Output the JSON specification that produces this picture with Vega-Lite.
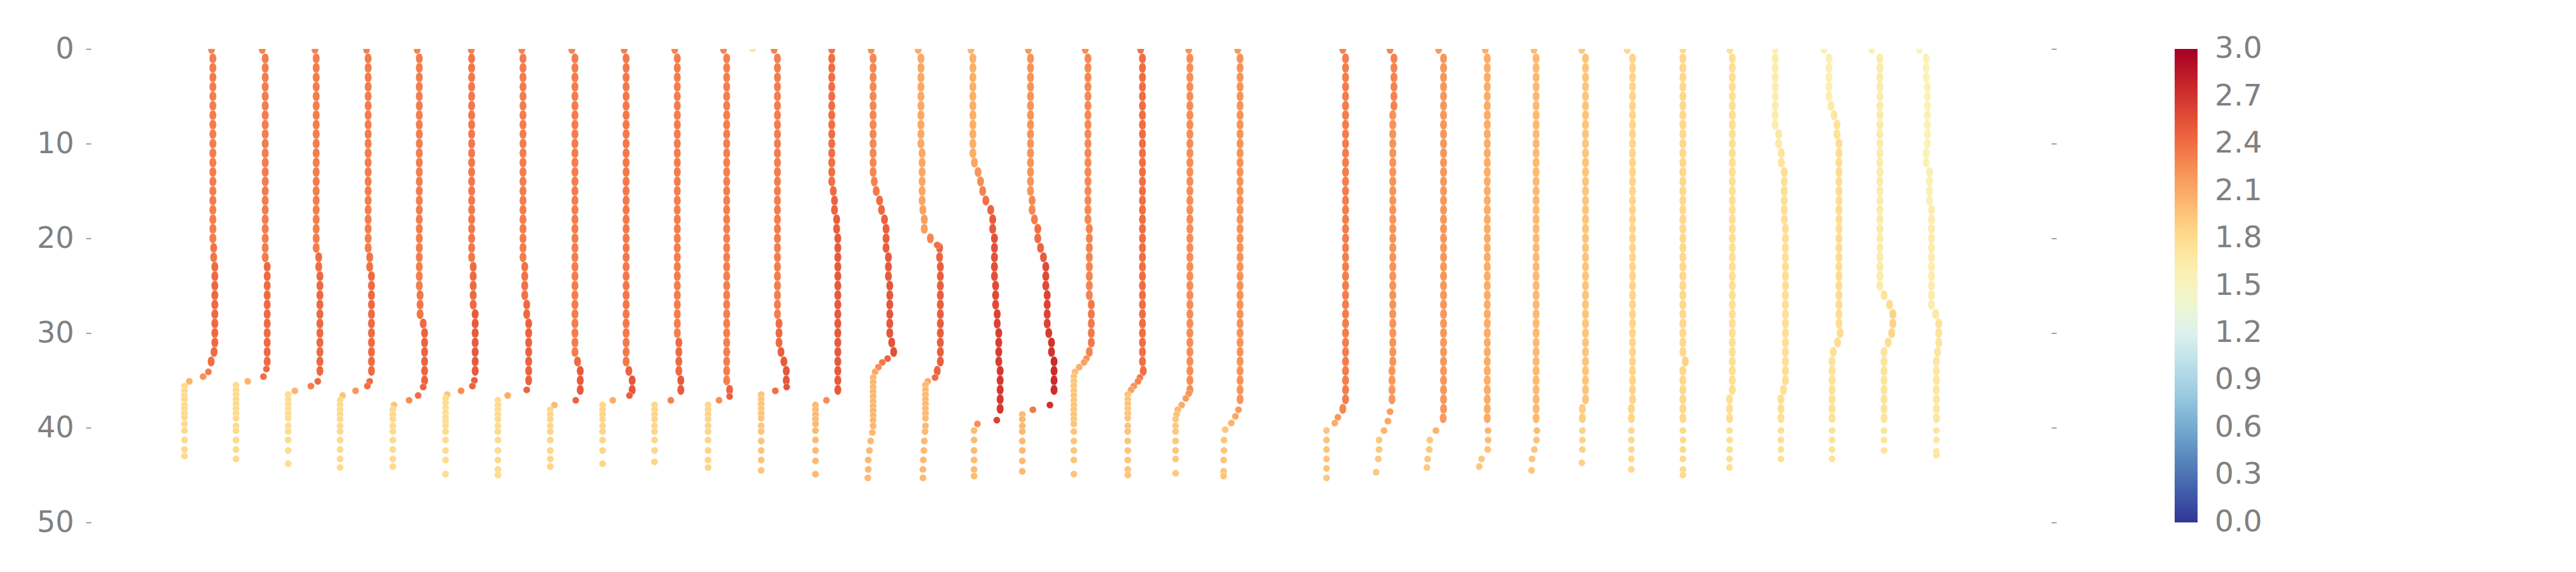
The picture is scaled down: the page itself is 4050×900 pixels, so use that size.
{
"$schema": "https://vega.github.io/schema/vega-lite/v6.json",
"width": 3082, "height": 745,
"autosize": {"type": "none"},
"padding": {"left": 143, "top": 77, "right": 825, "bottom": 78},
"background": "white",
"datasets": {
"chain": [
{"x":61.5,"d":0,"v":2.3},{"x":62.2,"d":1,"v":2.33},{"x":62.2,"d":2,"v":2.33},{"x":62.2,"d":3,"v":2.33},{"x":62.2,"d":4,"v":2.33},{"x":62.2,"d":5,"v":2.33},{"x":62.2,"d":6,"v":2.33},{"x":62.2,"d":7,"v":2.33},{"x":62.2,"d":8,"v":2.33},{"x":62.2,"d":9,"v":2.33},{"x":62.2,"d":10,"v":2.33},{"x":62.2,"d":11,"v":2.33},{"x":62.2,"d":12,"v":2.33},{"x":62.2,"d":13,"v":2.33},{"x":62.2,"d":14,"v":2.33},{"x":62.2,"d":15,"v":2.33},{"x":62.2,"d":16,"v":2.33},{"x":62.2,"d":17,"v":2.33},{"x":62.2,"d":18,"v":2.33},{"x":62.2,"d":19,"v":2.33},{"x":62.2,"d":20,"v":2.33},{"x":62.6,"d":21,"v":2.37},{"x":62.6,"d":22,"v":2.37},{"x":63.2,"d":23,"v":2.42},{"x":63.2,"d":24,"v":2.42},{"x":63.2,"d":25,"v":2.42},{"x":63.2,"d":26,"v":2.42},{"x":63.2,"d":27,"v":2.42},{"x":63.2,"d":28,"v":2.42},{"x":63.2,"d":29,"v":2.42},{"x":63.2,"d":30,"v":2.42},{"x":63.2,"d":31,"v":2.42},{"x":62.8,"d":32,"v":2.42},{"x":61.3,"d":33,"v":2.4},
{"x":87.4,"d":0,"v":2.3},{"x":88.9,"d":1,"v":2.33},{"x":88.9,"d":2,"v":2.33},{"x":88.9,"d":3,"v":2.33},{"x":88.9,"d":4,"v":2.33},{"x":88.9,"d":5,"v":2.33},{"x":88.9,"d":6,"v":2.33},{"x":88.9,"d":7,"v":2.33},{"x":88.9,"d":8,"v":2.33},{"x":88.9,"d":9,"v":2.33},{"x":88.9,"d":10,"v":2.33},{"x":88.9,"d":11,"v":2.33},{"x":88.9,"d":12,"v":2.33},{"x":88.9,"d":13,"v":2.33},{"x":88.9,"d":14,"v":2.33},{"x":88.9,"d":15,"v":2.33},{"x":88.9,"d":16,"v":2.33},{"x":88.9,"d":17,"v":2.33},{"x":88.9,"d":18,"v":2.33},{"x":88.9,"d":19,"v":2.33},{"x":88.9,"d":20,"v":2.33},{"x":88.9,"d":21,"v":2.33},{"x":88.9,"d":22,"v":2.33},{"x":89.9,"d":23,"v":2.42},{"x":89.9,"d":24,"v":2.42},{"x":89.9,"d":25,"v":2.42},{"x":89.9,"d":26,"v":2.42},{"x":89.9,"d":27,"v":2.42},{"x":89.9,"d":28,"v":2.42},{"x":89.9,"d":29,"v":2.42},{"x":89.9,"d":30,"v":2.42},{"x":89.9,"d":31,"v":2.42},{"x":89.9,"d":32,"v":2.42},{"x":89.9,"d":33,"v":2.42},
{"x":114.3,"d":0,"v":2.3},{"x":114.9,"d":1,"v":2.33},{"x":114.9,"d":2,"v":2.33},{"x":114.9,"d":3,"v":2.33},{"x":114.9,"d":4,"v":2.33},{"x":114.9,"d":5,"v":2.33},{"x":114.9,"d":6,"v":2.33},{"x":114.9,"d":7,"v":2.33},{"x":114.9,"d":8,"v":2.33},{"x":114.9,"d":9,"v":2.33},{"x":114.9,"d":10,"v":2.33},{"x":114.9,"d":11,"v":2.33},{"x":114.9,"d":12,"v":2.33},{"x":114.9,"d":13,"v":2.33},{"x":114.9,"d":14,"v":2.33},{"x":114.9,"d":15,"v":2.33},{"x":114.9,"d":16,"v":2.33},{"x":114.9,"d":17,"v":2.33},{"x":114.9,"d":18,"v":2.33},{"x":114.9,"d":19,"v":2.33},{"x":114.9,"d":20,"v":2.33},{"x":114.9,"d":21,"v":2.33},{"x":116.2,"d":22,"v":2.4},{"x":116.2,"d":23,"v":2.4},{"x":116.8,"d":24,"v":2.43},{"x":116.8,"d":25,"v":2.43},{"x":116.8,"d":26,"v":2.43},{"x":116.8,"d":27,"v":2.43},{"x":116.8,"d":28,"v":2.43},{"x":116.8,"d":29,"v":2.43},{"x":116.8,"d":30,"v":2.43},{"x":116.8,"d":31,"v":2.43},{"x":116.8,"d":32,"v":2.43},{"x":116.8,"d":33,"v":2.43},{"x":116.8,"d":34,"v":2.43},
{"x":140.6,"d":0,"v":2.3},{"x":141.4,"d":1,"v":2.33},{"x":141.4,"d":2,"v":2.33},{"x":141.4,"d":3,"v":2.33},{"x":141.4,"d":4,"v":2.33},{"x":141.4,"d":5,"v":2.33},{"x":141.4,"d":6,"v":2.33},{"x":141.4,"d":7,"v":2.33},{"x":141.4,"d":8,"v":2.33},{"x":141.4,"d":9,"v":2.33},{"x":141.4,"d":10,"v":2.33},{"x":141.4,"d":11,"v":2.33},{"x":141.4,"d":12,"v":2.33},{"x":141.4,"d":13,"v":2.33},{"x":141.4,"d":14,"v":2.33},{"x":141.4,"d":15,"v":2.33},{"x":141.4,"d":16,"v":2.33},{"x":141.4,"d":17,"v":2.33},{"x":141.4,"d":18,"v":2.33},{"x":141.4,"d":19,"v":2.33},{"x":141.4,"d":20,"v":2.33},{"x":141.4,"d":21,"v":2.33},{"x":142.2,"d":22,"v":2.38},{"x":142.2,"d":23,"v":2.38},{"x":143.1,"d":24,"v":2.42},{"x":143.1,"d":25,"v":2.42},{"x":143.1,"d":26,"v":2.42},{"x":143.1,"d":27,"v":2.42},{"x":143.1,"d":28,"v":2.42},{"x":143.1,"d":29,"v":2.42},{"x":143.1,"d":30,"v":2.42},{"x":143.1,"d":31,"v":2.42},{"x":143.1,"d":32,"v":2.42},{"x":143.1,"d":33,"v":2.42},{"x":143.1,"d":34,"v":2.42},
{"x":166.4,"d":0,"v":2.3},{"x":167.5,"d":1,"v":2.33},{"x":167.5,"d":2,"v":2.33},{"x":167.5,"d":3,"v":2.33},{"x":167.5,"d":4,"v":2.33},{"x":167.5,"d":5,"v":2.33},{"x":167.5,"d":6,"v":2.33},{"x":167.5,"d":7,"v":2.33},{"x":167.5,"d":8,"v":2.33},{"x":167.5,"d":9,"v":2.33},{"x":167.5,"d":10,"v":2.33},{"x":167.5,"d":11,"v":2.33},{"x":167.5,"d":12,"v":2.33},{"x":167.5,"d":13,"v":2.33},{"x":167.5,"d":14,"v":2.33},{"x":167.5,"d":15,"v":2.33},{"x":167.5,"d":16,"v":2.33},{"x":167.5,"d":17,"v":2.33},{"x":167.5,"d":18,"v":2.33},{"x":167.5,"d":19,"v":2.33},{"x":167.5,"d":20,"v":2.33},{"x":167.5,"d":21,"v":2.33},{"x":167.5,"d":22,"v":2.33},{"x":167.5,"d":23,"v":2.33},{"x":167.5,"d":24,"v":2.33},{"x":167.5,"d":25,"v":2.33},{"x":167.9,"d":26,"v":2.36},{"x":167.9,"d":27,"v":2.36},{"x":167.9,"d":28,"v":2.36},{"x":169.5,"d":29,"v":2.42},{"x":170.2,"d":30,"v":2.45},{"x":170.2,"d":31,"v":2.45},{"x":170.2,"d":32,"v":2.45},{"x":170.2,"d":33,"v":2.45},{"x":170.2,"d":34,"v":2.45},{"x":170.2,"d":35,"v":2.45},
{"x":194.0,"d":0,"v":2.32},{"x":194.2,"d":1,"v":2.35},{"x":194.2,"d":2,"v":2.35},{"x":194.2,"d":3,"v":2.35},{"x":194.2,"d":4,"v":2.35},{"x":194.2,"d":5,"v":2.35},{"x":194.2,"d":6,"v":2.35},{"x":194.2,"d":7,"v":2.35},{"x":194.2,"d":8,"v":2.35},{"x":194.2,"d":9,"v":2.35},{"x":194.2,"d":10,"v":2.35},{"x":194.2,"d":11,"v":2.35},{"x":194.2,"d":12,"v":2.35},{"x":194.2,"d":13,"v":2.35},{"x":194.2,"d":14,"v":2.35},{"x":194.2,"d":15,"v":2.35},{"x":194.2,"d":16,"v":2.35},{"x":194.2,"d":17,"v":2.35},{"x":194.2,"d":18,"v":2.35},{"x":194.2,"d":19,"v":2.35},{"x":194.2,"d":20,"v":2.35},{"x":194.2,"d":21,"v":2.35},{"x":194.2,"d":22,"v":2.35},{"x":195.0,"d":23,"v":2.42},{"x":195.0,"d":24,"v":2.42},{"x":195.0,"d":25,"v":2.42},{"x":195.0,"d":26,"v":2.42},{"x":195.0,"d":27,"v":2.42},{"x":196.0,"d":28,"v":2.5},{"x":196.0,"d":29,"v":2.5},{"x":196.0,"d":30,"v":2.5},{"x":196.0,"d":31,"v":2.5},{"x":196.0,"d":32,"v":2.5},{"x":196.0,"d":33,"v":2.5},{"x":196.0,"d":34,"v":2.5},
{"x":219.8,"d":0,"v":2.3},{"x":220.4,"d":1,"v":2.33},{"x":220.4,"d":2,"v":2.33},{"x":220.4,"d":3,"v":2.33},{"x":220.4,"d":4,"v":2.33},{"x":220.4,"d":5,"v":2.33},{"x":220.4,"d":6,"v":2.33},{"x":220.4,"d":7,"v":2.33},{"x":220.4,"d":8,"v":2.33},{"x":220.4,"d":9,"v":2.33},{"x":220.4,"d":10,"v":2.33},{"x":220.4,"d":11,"v":2.33},{"x":220.4,"d":12,"v":2.33},{"x":220.4,"d":13,"v":2.33},{"x":220.4,"d":14,"v":2.33},{"x":220.4,"d":15,"v":2.33},{"x":220.4,"d":16,"v":2.33},{"x":220.4,"d":17,"v":2.33},{"x":220.4,"d":18,"v":2.33},{"x":220.4,"d":19,"v":2.33},{"x":220.4,"d":20,"v":2.33},{"x":220.4,"d":21,"v":2.33},{"x":220.4,"d":22,"v":2.33},{"x":221.3,"d":23,"v":2.38},{"x":221.3,"d":24,"v":2.38},{"x":221.3,"d":25,"v":2.38},{"x":221.3,"d":26,"v":2.38},{"x":222.3,"d":27,"v":2.42},{"x":222.3,"d":28,"v":2.42},{"x":223.3,"d":29,"v":2.46},{"x":223.3,"d":30,"v":2.46},{"x":223.3,"d":31,"v":2.46},{"x":223.3,"d":32,"v":2.46},{"x":223.3,"d":33,"v":2.46},{"x":223.3,"d":34,"v":2.46},{"x":223.3,"d":35,"v":2.46},
{"x":245.3,"d":0,"v":2.3},{"x":246.9,"d":1,"v":2.33},{"x":246.9,"d":2,"v":2.33},{"x":246.9,"d":3,"v":2.33},{"x":246.9,"d":4,"v":2.33},{"x":246.9,"d":5,"v":2.33},{"x":246.9,"d":6,"v":2.33},{"x":246.9,"d":7,"v":2.33},{"x":246.9,"d":8,"v":2.33},{"x":246.9,"d":9,"v":2.33},{"x":246.9,"d":10,"v":2.33},{"x":246.9,"d":11,"v":2.33},{"x":246.9,"d":12,"v":2.33},{"x":246.9,"d":13,"v":2.33},{"x":246.9,"d":14,"v":2.33},{"x":246.9,"d":15,"v":2.33},{"x":246.9,"d":16,"v":2.33},{"x":246.9,"d":17,"v":2.33},{"x":246.9,"d":18,"v":2.33},{"x":246.9,"d":19,"v":2.33},{"x":246.9,"d":20,"v":2.33},{"x":246.9,"d":21,"v":2.33},{"x":246.9,"d":22,"v":2.33},{"x":246.9,"d":23,"v":2.33},{"x":246.9,"d":24,"v":2.33},{"x":246.9,"d":25,"v":2.33},{"x":246.9,"d":26,"v":2.33},{"x":246.9,"d":27,"v":2.33},{"x":246.9,"d":28,"v":2.33},{"x":246.9,"d":29,"v":2.33},{"x":246.9,"d":30,"v":2.33},{"x":246.9,"d":31,"v":2.33},{"x":246.9,"d":32,"v":2.33},{"x":248.2,"d":33,"v":2.42},{"x":249.6,"d":34,"v":2.5},{"x":249.6,"d":35,"v":2.5},{"x":249.6,"d":36,"v":2.5},
{"x":272.0,"d":0,"v":2.32},{"x":273.0,"d":1,"v":2.35},{"x":273.0,"d":2,"v":2.35},{"x":273.0,"d":3,"v":2.35},{"x":273.0,"d":4,"v":2.35},{"x":273.0,"d":5,"v":2.35},{"x":273.0,"d":6,"v":2.35},{"x":273.0,"d":7,"v":2.35},{"x":273.0,"d":8,"v":2.35},{"x":273.0,"d":9,"v":2.35},{"x":273.0,"d":10,"v":2.35},{"x":273.0,"d":11,"v":2.35},{"x":273.0,"d":12,"v":2.35},{"x":273.0,"d":13,"v":2.35},{"x":273.0,"d":14,"v":2.35},{"x":273.0,"d":15,"v":2.35},{"x":273.0,"d":16,"v":2.35},{"x":273.0,"d":17,"v":2.35},{"x":273.0,"d":18,"v":2.35},{"x":273.0,"d":19,"v":2.35},{"x":273.0,"d":20,"v":2.35},{"x":273.0,"d":21,"v":2.35},{"x":273.0,"d":22,"v":2.35},{"x":273.0,"d":23,"v":2.35},{"x":273.0,"d":24,"v":2.35},{"x":273.0,"d":25,"v":2.35},{"x":273.0,"d":26,"v":2.35},{"x":273.0,"d":27,"v":2.35},{"x":273.0,"d":28,"v":2.35},{"x":273.0,"d":29,"v":2.35},{"x":273.0,"d":30,"v":2.35},{"x":273.0,"d":31,"v":2.35},{"x":273.0,"d":32,"v":2.35},{"x":273.0,"d":33,"v":2.35},{"x":274.4,"d":34,"v":2.45},{"x":276.1,"d":35,"v":2.52},{"x":276.1,"d":36,"v":2.52},
{"x":297.8,"d":0,"v":2.3},{"x":299.1,"d":1,"v":2.33},{"x":299.1,"d":2,"v":2.33},{"x":299.1,"d":3,"v":2.33},{"x":299.1,"d":4,"v":2.33},{"x":299.1,"d":5,"v":2.33},{"x":299.1,"d":6,"v":2.33},{"x":299.1,"d":7,"v":2.33},{"x":299.1,"d":8,"v":2.33},{"x":299.1,"d":9,"v":2.33},{"x":299.1,"d":10,"v":2.33},{"x":299.1,"d":11,"v":2.33},{"x":299.1,"d":12,"v":2.33},{"x":299.1,"d":13,"v":2.33},{"x":299.1,"d":14,"v":2.33},{"x":299.1,"d":15,"v":2.33},{"x":299.1,"d":16,"v":2.33},{"x":299.1,"d":17,"v":2.33},{"x":299.1,"d":18,"v":2.33},{"x":299.1,"d":19,"v":2.33},{"x":299.1,"d":20,"v":2.33},{"x":299.1,"d":21,"v":2.33},{"x":299.1,"d":22,"v":2.33},{"x":299.1,"d":23,"v":2.33},{"x":299.1,"d":24,"v":2.33},{"x":299.1,"d":25,"v":2.33},{"x":299.1,"d":26,"v":2.33},{"x":299.1,"d":27,"v":2.33},{"x":299.1,"d":28,"v":2.33},{"x":299.1,"d":29,"v":2.33},{"x":299.1,"d":30,"v":2.33},{"x":299.9,"d":31,"v":2.42},{"x":299.9,"d":32,"v":2.42},{"x":299.9,"d":33,"v":2.42},{"x":299.9,"d":34,"v":2.42},{"x":300.9,"d":35,"v":2.5},{"x":300.9,"d":36,"v":2.5},
{"x":322.7,"d":0,"v":2.3},{"x":324.3,"d":1,"v":2.32},{"x":324.3,"d":2,"v":2.32},{"x":324.3,"d":3,"v":2.32},{"x":324.3,"d":4,"v":2.32},{"x":324.3,"d":5,"v":2.32},{"x":324.3,"d":6,"v":2.32},{"x":324.3,"d":7,"v":2.32},{"x":324.3,"d":8,"v":2.32},{"x":324.3,"d":9,"v":2.32},{"x":324.3,"d":10,"v":2.32},{"x":324.3,"d":11,"v":2.32},{"x":324.3,"d":12,"v":2.32},{"x":324.3,"d":13,"v":2.32},{"x":324.3,"d":14,"v":2.32},{"x":324.3,"d":15,"v":2.32},{"x":324.3,"d":16,"v":2.32},{"x":324.3,"d":17,"v":2.32},{"x":324.3,"d":18,"v":2.32},{"x":324.3,"d":19,"v":2.32},{"x":324.3,"d":20,"v":2.32},{"x":324.3,"d":21,"v":2.32},{"x":324.3,"d":22,"v":2.32},{"x":324.3,"d":23,"v":2.32},{"x":324.3,"d":24,"v":2.32},{"x":324.3,"d":25,"v":2.32},{"x":324.3,"d":26,"v":2.32},{"x":324.3,"d":27,"v":2.32},{"x":324.3,"d":28,"v":2.32},{"x":324.3,"d":29,"v":2.32},{"x":324.3,"d":30,"v":2.32},{"x":324.3,"d":31,"v":2.32},{"x":324.3,"d":32,"v":2.32},{"x":324.3,"d":33,"v":2.32},{"x":324.3,"d":34,"v":2.32},{"x":324.3,"d":35,"v":2.32},{"x":325.8,"d":36,"v":2.45},
{"x":348.5,"d":0,"v":2.3},{"x":350.2,"d":1,"v":2.33},{"x":350.2,"d":2,"v":2.33},{"x":350.2,"d":3,"v":2.33},{"x":350.2,"d":4,"v":2.33},{"x":350.2,"d":5,"v":2.33},{"x":350.2,"d":6,"v":2.33},{"x":350.2,"d":7,"v":2.33},{"x":350.2,"d":8,"v":2.33},{"x":350.2,"d":9,"v":2.33},{"x":350.2,"d":10,"v":2.33},{"x":350.2,"d":11,"v":2.33},{"x":350.2,"d":12,"v":2.33},{"x":350.2,"d":13,"v":2.33},{"x":350.2,"d":14,"v":2.33},{"x":350.2,"d":15,"v":2.33},{"x":350.2,"d":16,"v":2.33},{"x":350.2,"d":17,"v":2.33},{"x":350.2,"d":18,"v":2.33},{"x":350.2,"d":19,"v":2.33},{"x":350.2,"d":20,"v":2.33},{"x":350.2,"d":21,"v":2.33},{"x":350.2,"d":22,"v":2.33},{"x":350.2,"d":23,"v":2.33},{"x":350.2,"d":24,"v":2.33},{"x":350.2,"d":25,"v":2.33},{"x":350.2,"d":26,"v":2.33},{"x":350.2,"d":27,"v":2.33},{"x":350.2,"d":28,"v":2.33},{"x":351.0,"d":29,"v":2.42},{"x":351.0,"d":30,"v":2.42},{"x":351.0,"d":31,"v":2.42},{"x":352.0,"d":32,"v":2.48},{"x":353.5,"d":33,"v":2.5},{"x":354.7,"d":34,"v":2.52},{"x":354.7,"d":35,"v":2.52},
{"x":377.9,"d":0,"v":2.38},{"x":377.9,"d":1,"v":2.4},{"x":377.9,"d":2,"v":2.4},{"x":377.9,"d":3,"v":2.4},{"x":377.9,"d":4,"v":2.4},{"x":377.9,"d":5,"v":2.4},{"x":377.9,"d":6,"v":2.4},{"x":377.9,"d":7,"v":2.4},{"x":377.9,"d":8,"v":2.4},{"x":377.9,"d":9,"v":2.4},{"x":377.9,"d":10,"v":2.4},{"x":377.9,"d":11,"v":2.4},{"x":377.9,"d":12,"v":2.4},{"x":377.9,"d":13,"v":2.4},{"x":377.9,"d":14,"v":2.4},{"x":378.7,"d":15,"v":2.42},{"x":379.3,"d":16,"v":2.45},{"x":379.3,"d":17,"v":2.45},{"x":380.4,"d":18,"v":2.48},{"x":380.4,"d":19,"v":2.48},{"x":381.0,"d":20,"v":2.5},{"x":381.0,"d":21,"v":2.5},{"x":381.0,"d":22,"v":2.5},{"x":381.0,"d":23,"v":2.5},{"x":381.0,"d":24,"v":2.5},{"x":381.0,"d":25,"v":2.5},{"x":381.0,"d":26,"v":2.5},{"x":381.0,"d":27,"v":2.5},{"x":381.0,"d":28,"v":2.5},{"x":381.0,"d":29,"v":2.5},{"x":381.0,"d":30,"v":2.5},{"x":381.0,"d":31,"v":2.5},{"x":381.0,"d":32,"v":2.5},{"x":381.0,"d":33,"v":2.5},{"x":381.0,"d":34,"v":2.5},{"x":381.0,"d":35,"v":2.5},{"x":381.0,"d":36,"v":2.5},
{"x":398.0,"d":0,"v":2.25},{"x":399.0,"d":1,"v":2.28},{"x":399.0,"d":2,"v":2.28},{"x":399.0,"d":3,"v":2.28},{"x":399.0,"d":4,"v":2.28},{"x":399.0,"d":5,"v":2.28},{"x":399.0,"d":6,"v":2.28},{"x":399.0,"d":7,"v":2.28},{"x":399.0,"d":8,"v":2.28},{"x":399.0,"d":9,"v":2.28},{"x":399.0,"d":10,"v":2.28},{"x":399.0,"d":11,"v":2.28},{"x":399.0,"d":12,"v":2.28},{"x":399.0,"d":13,"v":2.28},{"x":399.6,"d":14,"v":2.3},{"x":400.6,"d":15,"v":2.35},{"x":402.3,"d":16,"v":2.4},{"x":403.3,"d":17,"v":2.43},{"x":404.8,"d":18,"v":2.46},{"x":405.6,"d":19,"v":2.48},{"x":405.6,"d":20,"v":2.48},{"x":405.6,"d":21,"v":2.48},{"x":406.8,"d":22,"v":2.5},{"x":406.8,"d":23,"v":2.5},{"x":406.8,"d":24,"v":2.5},{"x":407.5,"d":25,"v":2.52},{"x":407.5,"d":26,"v":2.52},{"x":407.5,"d":27,"v":2.52},{"x":407.5,"d":28,"v":2.52},{"x":407.5,"d":29,"v":2.52},{"x":407.5,"d":30,"v":2.52},{"x":408.5,"d":31,"v":2.54},{"x":409.5,"d":32,"v":2.56},
{"x":422.0,"d":0,"v":2.1},{"x":423.4,"d":1,"v":2.12},{"x":423.4,"d":2,"v":2.12},{"x":423.4,"d":3,"v":2.12},{"x":423.4,"d":4,"v":2.12},{"x":423.4,"d":5,"v":2.12},{"x":423.4,"d":6,"v":2.12},{"x":423.4,"d":7,"v":2.12},{"x":423.4,"d":8,"v":2.12},{"x":423.4,"d":9,"v":2.12},{"x":423.4,"d":10,"v":2.12},{"x":424.0,"d":11,"v":2.13},{"x":424.0,"d":12,"v":2.13},{"x":424.0,"d":13,"v":2.13},{"x":424.0,"d":14,"v":2.13},{"x":424.0,"d":15,"v":2.13},{"x":424.0,"d":16,"v":2.13},{"x":424.4,"d":17,"v":2.15},{"x":425.1,"d":18,"v":2.17},{"x":425.1,"d":19,"v":2.17},{"x":428.2,"d":20,"v":2.28},{"x":432.9,"d":21,"v":2.45},{"x":432.9,"d":22,"v":2.45},{"x":433.3,"d":23,"v":2.48},{"x":433.3,"d":24,"v":2.48},{"x":433.3,"d":25,"v":2.48},{"x":433.3,"d":26,"v":2.48},{"x":433.3,"d":27,"v":2.48},{"x":433.3,"d":28,"v":2.48},{"x":433.3,"d":29,"v":2.48},{"x":433.3,"d":30,"v":2.48},{"x":433.3,"d":31,"v":2.48},{"x":433.3,"d":32,"v":2.48},{"x":433.3,"d":33,"v":2.48},{"x":431.7,"d":34,"v":2.46},
{"x":448.9,"d":0,"v":2.05},{"x":449.9,"d":1,"v":2.08},{"x":449.9,"d":2,"v":2.08},{"x":449.9,"d":3,"v":2.08},{"x":449.9,"d":4,"v":2.08},{"x":449.9,"d":5,"v":2.08},{"x":449.9,"d":6,"v":2.08},{"x":449.9,"d":7,"v":2.08},{"x":449.9,"d":8,"v":2.08},{"x":449.9,"d":9,"v":2.08},{"x":449.9,"d":10,"v":2.08},{"x":449.9,"d":11,"v":2.08},{"x":450.7,"d":12,"v":2.12},{"x":452.5,"d":13,"v":2.2},{"x":453.8,"d":14,"v":2.25},{"x":454.9,"d":15,"v":2.3},{"x":456.5,"d":16,"v":2.38},{"x":459.0,"d":17,"v":2.45},{"x":460.0,"d":18,"v":2.5},{"x":460.0,"d":19,"v":2.5},{"x":460.9,"d":20,"v":2.55},{"x":460.9,"d":21,"v":2.55},{"x":460.9,"d":22,"v":2.55},{"x":460.9,"d":23,"v":2.55},{"x":460.9,"d":24,"v":2.55},{"x":461.5,"d":25,"v":2.58},{"x":461.5,"d":26,"v":2.58},{"x":461.5,"d":27,"v":2.58},{"x":462.3,"d":28,"v":2.62},{"x":462.3,"d":29,"v":2.62},{"x":463.1,"d":30,"v":2.65},{"x":463.1,"d":31,"v":2.65},{"x":463.1,"d":32,"v":2.65},{"x":463.1,"d":33,"v":2.65},{"x":463.8,"d":34,"v":2.68},{"x":463.8,"d":35,"v":2.68},{"x":463.8,"d":36,"v":2.68},{"x":463.8,"d":37,"v":2.68},{"x":463.8,"d":38,"v":2.68},
{"x":478.2,"d":0,"v":2.2},{"x":479.3,"d":1,"v":2.22},{"x":479.3,"d":2,"v":2.22},{"x":479.3,"d":3,"v":2.22},{"x":479.3,"d":4,"v":2.22},{"x":479.3,"d":5,"v":2.22},{"x":479.3,"d":6,"v":2.22},{"x":479.3,"d":7,"v":2.22},{"x":479.3,"d":8,"v":2.22},{"x":479.3,"d":9,"v":2.22},{"x":479.3,"d":10,"v":2.22},{"x":479.3,"d":11,"v":2.22},{"x":479.3,"d":12,"v":2.22},{"x":479.3,"d":13,"v":2.22},{"x":479.3,"d":14,"v":2.22},{"x":479.3,"d":15,"v":2.22},{"x":480.1,"d":16,"v":2.27},{"x":480.1,"d":17,"v":2.27},{"x":481.3,"d":18,"v":2.33},{"x":483.0,"d":19,"v":2.4},{"x":483.0,"d":20,"v":2.4},{"x":484.4,"d":21,"v":2.45},{"x":485.9,"d":22,"v":2.5},{"x":487.1,"d":23,"v":2.58},{"x":487.1,"d":24,"v":2.58},{"x":487.1,"d":25,"v":2.58},{"x":487.8,"d":26,"v":2.62},{"x":487.8,"d":27,"v":2.62},{"x":487.8,"d":28,"v":2.62},{"x":487.8,"d":29,"v":2.62},{"x":488.6,"d":30,"v":2.66},{"x":490.0,"d":31,"v":2.7},{"x":490.0,"d":32,"v":2.7},{"x":491.3,"d":33,"v":2.75},{"x":491.3,"d":34,"v":2.75},{"x":491.3,"d":35,"v":2.75},{"x":491.3,"d":36,"v":2.75},
{"x":507.2,"d":0,"v":2.25},{"x":508.6,"d":1,"v":2.27},{"x":508.6,"d":2,"v":2.27},{"x":508.6,"d":3,"v":2.27},{"x":508.6,"d":4,"v":2.27},{"x":508.6,"d":5,"v":2.27},{"x":508.6,"d":6,"v":2.27},{"x":508.6,"d":7,"v":2.27},{"x":508.6,"d":8,"v":2.27},{"x":508.6,"d":9,"v":2.27},{"x":508.6,"d":10,"v":2.27},{"x":508.6,"d":11,"v":2.27},{"x":508.6,"d":12,"v":2.27},{"x":508.6,"d":13,"v":2.27},{"x":508.6,"d":14,"v":2.27},{"x":508.6,"d":15,"v":2.27},{"x":508.6,"d":16,"v":2.27},{"x":508.6,"d":17,"v":2.27},{"x":508.6,"d":18,"v":2.27},{"x":509.3,"d":19,"v":2.3},{"x":509.3,"d":20,"v":2.3},{"x":509.3,"d":21,"v":2.3},{"x":509.3,"d":22,"v":2.3},{"x":509.3,"d":23,"v":2.3},{"x":509.3,"d":24,"v":2.3},{"x":509.3,"d":25,"v":2.3},{"x":509.3,"d":26,"v":2.3},{"x":510.3,"d":27,"v":2.35},{"x":510.3,"d":28,"v":2.35},{"x":510.3,"d":29,"v":2.35},{"x":510.3,"d":30,"v":2.35},{"x":510.3,"d":31,"v":2.35},{"x":509.3,"d":32,"v":2.3},
{"x":535.5,"d":0,"v":2.38},{"x":536.4,"d":1,"v":2.4},{"x":536.4,"d":2,"v":2.4},{"x":536.4,"d":3,"v":2.4},{"x":536.4,"d":4,"v":2.4},{"x":536.4,"d":5,"v":2.4},{"x":536.4,"d":6,"v":2.4},{"x":536.4,"d":7,"v":2.4},{"x":536.4,"d":8,"v":2.4},{"x":536.4,"d":9,"v":2.4},{"x":536.4,"d":10,"v":2.4},{"x":536.4,"d":11,"v":2.4},{"x":536.4,"d":12,"v":2.4},{"x":536.4,"d":13,"v":2.4},{"x":536.4,"d":14,"v":2.4},{"x":536.4,"d":15,"v":2.4},{"x":536.4,"d":16,"v":2.4},{"x":536.4,"d":17,"v":2.4},{"x":536.4,"d":18,"v":2.4},{"x":536.4,"d":19,"v":2.4},{"x":536.4,"d":20,"v":2.4},{"x":536.4,"d":21,"v":2.4},{"x":536.4,"d":22,"v":2.4},{"x":536.4,"d":23,"v":2.4},{"x":536.4,"d":24,"v":2.4},{"x":536.4,"d":25,"v":2.4},{"x":536.4,"d":26,"v":2.4},{"x":536.4,"d":27,"v":2.4},{"x":536.4,"d":28,"v":2.4},{"x":536.4,"d":29,"v":2.4},{"x":536.4,"d":30,"v":2.4},{"x":536.4,"d":31,"v":2.4},{"x":536.4,"d":32,"v":2.4},{"x":536.4,"d":33,"v":2.4},{"x":536.8,"d":34,"v":2.4},
{"x":560.0,"d":0,"v":2.22},{"x":560.6,"d":1,"v":2.25},{"x":560.6,"d":2,"v":2.25},{"x":560.6,"d":3,"v":2.25},{"x":560.6,"d":4,"v":2.25},{"x":560.6,"d":5,"v":2.25},{"x":560.6,"d":6,"v":2.25},{"x":560.6,"d":7,"v":2.25},{"x":560.6,"d":8,"v":2.25},{"x":560.6,"d":9,"v":2.25},{"x":560.6,"d":10,"v":2.25},{"x":560.6,"d":11,"v":2.25},{"x":560.6,"d":12,"v":2.25},{"x":560.6,"d":13,"v":2.25},{"x":560.6,"d":14,"v":2.25},{"x":560.6,"d":15,"v":2.25},{"x":560.6,"d":16,"v":2.25},{"x":560.6,"d":17,"v":2.25},{"x":560.6,"d":18,"v":2.25},{"x":560.6,"d":19,"v":2.25},{"x":560.6,"d":20,"v":2.25},{"x":560.6,"d":21,"v":2.25},{"x":560.6,"d":22,"v":2.25},{"x":560.6,"d":23,"v":2.25},{"x":560.6,"d":24,"v":2.25},{"x":560.6,"d":25,"v":2.25},{"x":560.6,"d":26,"v":2.25},{"x":560.6,"d":27,"v":2.25},{"x":560.6,"d":28,"v":2.25},{"x":560.6,"d":29,"v":2.25},{"x":560.6,"d":30,"v":2.25},{"x":560.6,"d":31,"v":2.25},{"x":560.6,"d":32,"v":2.25},{"x":560.6,"d":33,"v":2.25},{"x":560.6,"d":34,"v":2.25},{"x":560.6,"d":35,"v":2.25},{"x":560.6,"d":36,"v":2.25},
{"x":585.0,"d":0,"v":2.2},{"x":586.2,"d":1,"v":2.22},{"x":586.2,"d":2,"v":2.22},{"x":586.2,"d":3,"v":2.22},{"x":586.2,"d":4,"v":2.22},{"x":586.2,"d":5,"v":2.22},{"x":586.2,"d":6,"v":2.22},{"x":586.2,"d":7,"v":2.22},{"x":586.2,"d":8,"v":2.22},{"x":586.2,"d":9,"v":2.22},{"x":586.2,"d":10,"v":2.22},{"x":586.2,"d":11,"v":2.22},{"x":586.2,"d":12,"v":2.22},{"x":586.2,"d":13,"v":2.22},{"x":586.2,"d":14,"v":2.22},{"x":586.2,"d":15,"v":2.22},{"x":586.2,"d":16,"v":2.22},{"x":586.2,"d":17,"v":2.22},{"x":586.2,"d":18,"v":2.22},{"x":586.2,"d":19,"v":2.22},{"x":586.2,"d":20,"v":2.22},{"x":586.2,"d":21,"v":2.22},{"x":586.2,"d":22,"v":2.22},{"x":586.2,"d":23,"v":2.22},{"x":586.2,"d":24,"v":2.22},{"x":586.2,"d":25,"v":2.22},{"x":586.2,"d":26,"v":2.22},{"x":586.2,"d":27,"v":2.22},{"x":586.2,"d":28,"v":2.22},{"x":586.2,"d":29,"v":2.22},{"x":586.2,"d":30,"v":2.22},{"x":586.2,"d":31,"v":2.22},{"x":586.2,"d":32,"v":2.22},{"x":586.2,"d":33,"v":2.22},{"x":586.2,"d":34,"v":2.22},{"x":586.2,"d":35,"v":2.22},{"x":586.2,"d":36,"v":2.22},{"x":586.2,"d":37,"v":2.22},
{"x":638.6,"d":0,"v":2.3},{"x":640.0,"d":1,"v":2.33},{"x":640.0,"d":2,"v":2.33},{"x":640.0,"d":3,"v":2.33},{"x":640.0,"d":4,"v":2.33},{"x":640.0,"d":5,"v":2.33},{"x":640.0,"d":6,"v":2.33},{"x":640.0,"d":7,"v":2.33},{"x":640.0,"d":8,"v":2.33},{"x":640.0,"d":9,"v":2.33},{"x":640.0,"d":10,"v":2.33},{"x":640.0,"d":11,"v":2.33},{"x":640.0,"d":12,"v":2.33},{"x":640.0,"d":13,"v":2.33},{"x":640.0,"d":14,"v":2.33},{"x":640.0,"d":15,"v":2.33},{"x":640.0,"d":16,"v":2.33},{"x":640.0,"d":17,"v":2.33},{"x":640.0,"d":18,"v":2.33},{"x":640.0,"d":19,"v":2.33},{"x":640.0,"d":20,"v":2.33},{"x":640.0,"d":21,"v":2.33},{"x":640.0,"d":22,"v":2.33},{"x":640.0,"d":23,"v":2.33},{"x":640.0,"d":24,"v":2.33},{"x":640.0,"d":25,"v":2.33},{"x":640.0,"d":26,"v":2.33},{"x":640.0,"d":27,"v":2.33},{"x":640.0,"d":28,"v":2.33},{"x":640.0,"d":29,"v":2.33},{"x":640.0,"d":30,"v":2.33},{"x":640.0,"d":31,"v":2.33},{"x":640.0,"d":32,"v":2.33},{"x":640.0,"d":33,"v":2.33},{"x":640.0,"d":34,"v":2.33},{"x":640.0,"d":35,"v":2.33},{"x":640.0,"d":36,"v":2.33},{"x":640.0,"d":37,"v":2.33},{"x":638.6,"d":38,"v":2.28},
{"x":662.7,"d":0,"v":2.28},{"x":664.7,"d":1,"v":2.3},{"x":664.7,"d":2,"v":2.3},{"x":664.7,"d":3,"v":2.3},{"x":664.7,"d":4,"v":2.3},{"x":664.7,"d":5,"v":2.3},{"x":664.7,"d":6,"v":2.3},{"x":664.1,"d":7,"v":2.22},{"x":664.1,"d":8,"v":2.22},{"x":664.1,"d":9,"v":2.22},{"x":664.1,"d":10,"v":2.22},{"x":664.1,"d":11,"v":2.22},{"x":664.1,"d":12,"v":2.22},{"x":664.1,"d":13,"v":2.22},{"x":664.1,"d":14,"v":2.22},{"x":664.1,"d":15,"v":2.22},{"x":664.1,"d":16,"v":2.22},{"x":664.1,"d":17,"v":2.22},{"x":664.1,"d":18,"v":2.22},{"x":664.1,"d":19,"v":2.22},{"x":664.1,"d":20,"v":2.22},{"x":664.1,"d":21,"v":2.22},{"x":664.1,"d":22,"v":2.22},{"x":664.1,"d":23,"v":2.22},{"x":664.1,"d":24,"v":2.22},{"x":664.1,"d":25,"v":2.22},{"x":664.1,"d":26,"v":2.22},{"x":664.1,"d":27,"v":2.22},{"x":664.1,"d":28,"v":2.22},{"x":664.1,"d":29,"v":2.22},{"x":664.1,"d":30,"v":2.22},{"x":664.1,"d":31,"v":2.22},{"x":664.1,"d":32,"v":2.22},{"x":664.1,"d":33,"v":2.22},{"x":663.7,"d":34,"v":2.2},{"x":663.7,"d":35,"v":2.2},{"x":663.7,"d":36,"v":2.2},{"x":663.7,"d":37,"v":2.2},
{"x":687.5,"d":0,"v":2.18},{"x":690.0,"d":1,"v":2.2},{"x":690.0,"d":2,"v":2.2},{"x":690.0,"d":3,"v":2.2},{"x":690.0,"d":4,"v":2.2},{"x":690.0,"d":5,"v":2.2},{"x":690.0,"d":6,"v":2.2},{"x":690.0,"d":7,"v":2.2},{"x":690.0,"d":8,"v":2.2},{"x":690.0,"d":9,"v":2.2},{"x":690.0,"d":10,"v":2.2},{"x":690.0,"d":11,"v":2.2},{"x":690.0,"d":12,"v":2.2},{"x":690.0,"d":13,"v":2.2},{"x":690.0,"d":14,"v":2.2},{"x":690.0,"d":15,"v":2.2},{"x":690.0,"d":16,"v":2.2},{"x":690.0,"d":17,"v":2.2},{"x":690.0,"d":18,"v":2.2},{"x":690.0,"d":19,"v":2.2},{"x":690.0,"d":20,"v":2.2},{"x":690.0,"d":21,"v":2.2},{"x":690.0,"d":22,"v":2.2},{"x":690.0,"d":23,"v":2.2},{"x":690.0,"d":24,"v":2.2},{"x":690.0,"d":25,"v":2.2},{"x":690.0,"d":26,"v":2.2},{"x":690.0,"d":27,"v":2.2},{"x":690.0,"d":28,"v":2.2},{"x":690.0,"d":29,"v":2.2},{"x":690.0,"d":30,"v":2.2},{"x":690.0,"d":31,"v":2.2},{"x":690.0,"d":32,"v":2.2},{"x":690.0,"d":33,"v":2.2},{"x":690.0,"d":34,"v":2.2},{"x":690.0,"d":35,"v":2.2},{"x":690.0,"d":36,"v":2.2},{"x":690.0,"d":37,"v":2.2},{"x":690.0,"d":38,"v":2.2},{"x":689.8,"d":39,"v":2.18},
{"x":711.3,"d":0,"v":2.08},{"x":712.3,"d":1,"v":2.1},{"x":712.3,"d":2,"v":2.1},{"x":712.3,"d":3,"v":2.1},{"x":712.3,"d":4,"v":2.1},{"x":712.3,"d":5,"v":2.1},{"x":712.3,"d":6,"v":2.1},{"x":712.3,"d":7,"v":2.1},{"x":712.3,"d":8,"v":2.1},{"x":712.3,"d":9,"v":2.1},{"x":712.3,"d":10,"v":2.1},{"x":712.3,"d":11,"v":2.1},{"x":712.3,"d":12,"v":2.1},{"x":712.3,"d":13,"v":2.1},{"x":712.3,"d":14,"v":2.1},{"x":712.3,"d":15,"v":2.1},{"x":712.3,"d":16,"v":2.1},{"x":712.3,"d":17,"v":2.1},{"x":712.3,"d":18,"v":2.1},{"x":712.3,"d":19,"v":2.1},{"x":712.3,"d":20,"v":2.1},{"x":712.3,"d":21,"v":2.1},{"x":712.3,"d":22,"v":2.1},{"x":712.3,"d":23,"v":2.1},{"x":712.3,"d":24,"v":2.1},{"x":712.3,"d":25,"v":2.1},{"x":712.3,"d":26,"v":2.1},{"x":712.3,"d":27,"v":2.1},{"x":712.3,"d":28,"v":2.1},{"x":712.3,"d":29,"v":2.1},{"x":712.3,"d":30,"v":2.1},{"x":712.3,"d":31,"v":2.1},{"x":712.3,"d":32,"v":2.1},{"x":712.3,"d":33,"v":2.1},{"x":712.3,"d":34,"v":2.1},{"x":712.3,"d":35,"v":2.1},{"x":712.3,"d":36,"v":2.1},{"x":712.3,"d":37,"v":2.1},{"x":712.3,"d":38,"v":2.1},{"x":712.3,"d":39,"v":2.1},
{"x":736.1,"d":0,"v":2.0},{"x":737.2,"d":1,"v":2.02},{"x":737.2,"d":2,"v":2.02},{"x":737.2,"d":3,"v":2.02},{"x":737.2,"d":4,"v":2.02},{"x":737.2,"d":5,"v":2.02},{"x":737.2,"d":6,"v":2.02},{"x":737.2,"d":7,"v":2.02},{"x":737.2,"d":8,"v":2.02},{"x":737.2,"d":9,"v":2.02},{"x":737.2,"d":10,"v":2.02},{"x":737.2,"d":11,"v":2.02},{"x":737.2,"d":12,"v":2.02},{"x":737.2,"d":13,"v":2.02},{"x":737.2,"d":14,"v":2.02},{"x":737.2,"d":15,"v":2.02},{"x":737.2,"d":16,"v":2.02},{"x":737.2,"d":17,"v":2.02},{"x":737.2,"d":18,"v":2.02},{"x":737.2,"d":19,"v":2.02},{"x":737.2,"d":20,"v":2.02},{"x":737.2,"d":21,"v":2.02},{"x":737.2,"d":22,"v":2.02},{"x":737.2,"d":23,"v":2.02},{"x":737.2,"d":24,"v":2.02},{"x":737.2,"d":25,"v":2.02},{"x":737.2,"d":26,"v":2.02},{"x":737.2,"d":27,"v":2.02},{"x":737.2,"d":28,"v":2.02},{"x":737.2,"d":29,"v":2.02},{"x":737.2,"d":30,"v":2.02},{"x":737.2,"d":31,"v":2.02},{"x":737.2,"d":32,"v":2.02},{"x":737.2,"d":33,"v":2.02},{"x":737.2,"d":34,"v":2.02},{"x":737.2,"d":35,"v":2.02},{"x":737.2,"d":36,"v":2.02},{"x":737.2,"d":37,"v":2.02},{"x":737.2,"d":38,"v":2.02},{"x":737.2,"d":39,"v":2.02},
{"x":760.5,"d":0,"v":1.93},{"x":762.4,"d":1,"v":1.95},{"x":762.4,"d":2,"v":1.95},{"x":762.4,"d":3,"v":1.95},{"x":762.4,"d":4,"v":1.95},{"x":762.4,"d":5,"v":1.95},{"x":762.4,"d":6,"v":1.95},{"x":762.4,"d":7,"v":1.95},{"x":762.4,"d":8,"v":1.95},{"x":762.4,"d":9,"v":1.95},{"x":762.4,"d":10,"v":1.95},{"x":762.4,"d":11,"v":1.95},{"x":762.4,"d":12,"v":1.95},{"x":762.4,"d":13,"v":1.95},{"x":762.4,"d":14,"v":1.95},{"x":762.4,"d":15,"v":1.95},{"x":762.4,"d":16,"v":1.95},{"x":762.4,"d":17,"v":1.95},{"x":762.4,"d":18,"v":1.95},{"x":762.4,"d":19,"v":1.95},{"x":762.4,"d":20,"v":1.95},{"x":762.4,"d":21,"v":1.95},{"x":762.4,"d":22,"v":1.95},{"x":762.4,"d":23,"v":1.95},{"x":762.4,"d":24,"v":1.95},{"x":762.4,"d":25,"v":1.95},{"x":762.4,"d":26,"v":1.95},{"x":762.4,"d":27,"v":1.95},{"x":762.4,"d":28,"v":1.95},{"x":762.4,"d":29,"v":1.95},{"x":762.4,"d":30,"v":1.95},{"x":762.4,"d":31,"v":1.95},{"x":762.4,"d":32,"v":1.95},{"x":762.4,"d":33,"v":1.95},{"x":762.4,"d":34,"v":1.95},{"x":762.4,"d":35,"v":1.95},{"x":762.4,"d":36,"v":1.95},{"x":762.4,"d":37,"v":1.95},{"x":760.8,"d":38,"v":1.9},{"x":760.8,"d":39,"v":1.9},
{"x":783.7,"d":0,"v":1.83},{"x":786.4,"d":1,"v":1.85},{"x":786.4,"d":2,"v":1.85},{"x":786.4,"d":3,"v":1.85},{"x":786.4,"d":4,"v":1.85},{"x":786.4,"d":5,"v":1.85},{"x":786.4,"d":6,"v":1.85},{"x":786.4,"d":7,"v":1.85},{"x":786.4,"d":8,"v":1.85},{"x":786.4,"d":9,"v":1.85},{"x":786.4,"d":10,"v":1.85},{"x":786.4,"d":11,"v":1.85},{"x":786.4,"d":12,"v":1.85},{"x":786.4,"d":13,"v":1.85},{"x":786.4,"d":14,"v":1.85},{"x":786.4,"d":15,"v":1.85},{"x":786.4,"d":16,"v":1.85},{"x":786.4,"d":17,"v":1.85},{"x":786.4,"d":18,"v":1.85},{"x":786.4,"d":19,"v":1.85},{"x":786.4,"d":20,"v":1.85},{"x":786.4,"d":21,"v":1.85},{"x":786.4,"d":22,"v":1.85},{"x":786.4,"d":23,"v":1.85},{"x":786.4,"d":24,"v":1.85},{"x":786.4,"d":25,"v":1.85},{"x":786.4,"d":26,"v":1.85},{"x":786.4,"d":27,"v":1.85},{"x":786.4,"d":28,"v":1.85},{"x":786.4,"d":29,"v":1.85},{"x":786.4,"d":30,"v":1.85},{"x":786.4,"d":31,"v":1.85},{"x":786.4,"d":32,"v":1.85},{"x":786.4,"d":33,"v":1.85},{"x":786.4,"d":34,"v":1.85},{"x":786.4,"d":35,"v":1.85},{"x":786.4,"d":36,"v":1.85},{"x":786.4,"d":37,"v":1.85},{"x":785.8,"d":38,"v":1.84},{"x":785.8,"d":39,"v":1.84},
{"x":812.1,"d":0,"v":1.82},{"x":812.1,"d":1,"v":1.83},{"x":812.1,"d":2,"v":1.83},{"x":812.1,"d":3,"v":1.83},{"x":812.1,"d":4,"v":1.83},{"x":812.1,"d":5,"v":1.83},{"x":812.1,"d":6,"v":1.83},{"x":812.1,"d":7,"v":1.83},{"x":812.1,"d":8,"v":1.83},{"x":812.1,"d":9,"v":1.83},{"x":812.1,"d":10,"v":1.83},{"x":812.1,"d":11,"v":1.83},{"x":812.1,"d":12,"v":1.83},{"x":812.1,"d":13,"v":1.83},{"x":812.1,"d":14,"v":1.83},{"x":812.1,"d":15,"v":1.83},{"x":812.1,"d":16,"v":1.83},{"x":812.1,"d":17,"v":1.83},{"x":812.1,"d":18,"v":1.83},{"x":812.1,"d":19,"v":1.83},{"x":812.1,"d":20,"v":1.83},{"x":812.1,"d":21,"v":1.83},{"x":812.1,"d":22,"v":1.83},{"x":812.1,"d":23,"v":1.83},{"x":812.1,"d":24,"v":1.83},{"x":812.1,"d":25,"v":1.83},{"x":812.1,"d":26,"v":1.83},{"x":812.1,"d":27,"v":1.83},{"x":812.1,"d":28,"v":1.83},{"x":812.1,"d":29,"v":1.83},{"x":812.1,"d":30,"v":1.83},{"x":812.1,"d":31,"v":1.83},{"x":812.1,"d":32,"v":1.83},{"x":813.3,"d":33,"v":1.87},{"x":812.1,"d":34,"v":1.83},{"x":812.1,"d":35,"v":1.83},{"x":812.1,"d":36,"v":1.83},{"x":812.1,"d":37,"v":1.83},{"x":812.1,"d":38,"v":1.83},{"x":812.1,"d":39,"v":1.83},
{"x":836.1,"d":0,"v":1.76},{"x":837.3,"d":1,"v":1.78},{"x":837.3,"d":2,"v":1.78},{"x":837.3,"d":3,"v":1.78},{"x":837.3,"d":4,"v":1.78},{"x":837.3,"d":5,"v":1.78},{"x":837.3,"d":6,"v":1.78},{"x":837.3,"d":7,"v":1.78},{"x":837.3,"d":8,"v":1.78},{"x":837.3,"d":9,"v":1.78},{"x":837.3,"d":10,"v":1.78},{"x":837.3,"d":11,"v":1.78},{"x":837.3,"d":12,"v":1.78},{"x":837.3,"d":13,"v":1.78},{"x":837.3,"d":14,"v":1.78},{"x":837.3,"d":15,"v":1.78},{"x":837.3,"d":16,"v":1.78},{"x":837.3,"d":17,"v":1.78},{"x":837.3,"d":18,"v":1.78},{"x":837.3,"d":19,"v":1.78},{"x":837.3,"d":20,"v":1.78},{"x":837.3,"d":21,"v":1.78},{"x":837.3,"d":22,"v":1.78},{"x":837.3,"d":23,"v":1.78},{"x":837.3,"d":24,"v":1.78},{"x":837.3,"d":25,"v":1.78},{"x":837.3,"d":26,"v":1.78},{"x":837.3,"d":27,"v":1.78},{"x":837.3,"d":28,"v":1.78},{"x":837.3,"d":29,"v":1.78},{"x":837.3,"d":30,"v":1.78},{"x":837.3,"d":31,"v":1.78},{"x":837.3,"d":32,"v":1.78},{"x":837.3,"d":33,"v":1.78},{"x":837.3,"d":34,"v":1.78},{"x":837.3,"d":35,"v":1.78},{"x":837.3,"d":36,"v":1.78},{"x":835.9,"d":37,"v":1.77},{"x":835.9,"d":38,"v":1.77},{"x":835.9,"d":39,"v":1.77},
{"x":859.2,"d":0,"v":1.6},{"x":859.2,"d":1,"v":1.62},{"x":859.2,"d":2,"v":1.62},{"x":859.2,"d":3,"v":1.62},{"x":859.2,"d":4,"v":1.62},{"x":859.2,"d":5,"v":1.62},{"x":859.2,"d":6,"v":1.62},{"x":859.2,"d":7,"v":1.62},{"x":859.2,"d":8,"v":1.62},{"x":860.9,"d":9,"v":1.67},{"x":860.9,"d":10,"v":1.67},{"x":862.3,"d":11,"v":1.72},{"x":862.3,"d":12,"v":1.72},{"x":863.8,"d":13,"v":1.77},{"x":863.8,"d":14,"v":1.77},{"x":863.8,"d":15,"v":1.77},{"x":863.8,"d":16,"v":1.77},{"x":863.8,"d":17,"v":1.77},{"x":863.8,"d":18,"v":1.77},{"x":864.4,"d":19,"v":1.79},{"x":864.4,"d":20,"v":1.79},{"x":864.4,"d":21,"v":1.79},{"x":864.4,"d":22,"v":1.79},{"x":864.4,"d":23,"v":1.79},{"x":864.4,"d":24,"v":1.79},{"x":864.4,"d":25,"v":1.79},{"x":864.4,"d":26,"v":1.79},{"x":864.4,"d":27,"v":1.79},{"x":864.4,"d":28,"v":1.79},{"x":864.4,"d":29,"v":1.79},{"x":864.4,"d":30,"v":1.79},{"x":864.4,"d":31,"v":1.79},{"x":864.4,"d":32,"v":1.79},{"x":864.4,"d":33,"v":1.79},{"x":864.4,"d":34,"v":1.79},{"x":864.4,"d":35,"v":1.79},{"x":863.4,"d":36,"v":1.78},{"x":862.1,"d":37,"v":1.77},{"x":862.1,"d":38,"v":1.77},{"x":862.1,"d":39,"v":1.77},
{"x":884.1,"d":0,"v":1.58},{"x":886.6,"d":1,"v":1.6},{"x":886.6,"d":2,"v":1.6},{"x":886.6,"d":3,"v":1.6},{"x":886.6,"d":4,"v":1.6},{"x":886.6,"d":5,"v":1.6},{"x":887.6,"d":6,"v":1.65},{"x":889.2,"d":7,"v":1.7},{"x":890.7,"d":8,"v":1.75},{"x":890.7,"d":9,"v":1.75},{"x":891.7,"d":10,"v":1.8},{"x":891.7,"d":11,"v":1.8},{"x":891.7,"d":12,"v":1.8},{"x":891.7,"d":13,"v":1.8},{"x":891.7,"d":14,"v":1.8},{"x":891.7,"d":15,"v":1.8},{"x":891.7,"d":16,"v":1.8},{"x":891.7,"d":17,"v":1.8},{"x":891.7,"d":18,"v":1.8},{"x":891.7,"d":19,"v":1.8},{"x":891.7,"d":20,"v":1.8},{"x":891.7,"d":21,"v":1.8},{"x":891.7,"d":22,"v":1.8},{"x":891.7,"d":23,"v":1.8},{"x":891.7,"d":24,"v":1.8},{"x":891.7,"d":25,"v":1.8},{"x":891.7,"d":26,"v":1.8},{"x":891.7,"d":27,"v":1.8},{"x":891.7,"d":28,"v":1.8},{"x":891.7,"d":29,"v":1.8},{"x":892.3,"d":30,"v":1.81},{"x":891.0,"d":31,"v":1.79},{"x":888.8,"d":32,"v":1.76},{"x":888.2,"d":33,"v":1.75},{"x":888.2,"d":34,"v":1.75},{"x":888.2,"d":35,"v":1.75},{"x":888.2,"d":36,"v":1.75},{"x":888.2,"d":37,"v":1.75},{"x":888.2,"d":38,"v":1.75},{"x":888.2,"d":39,"v":1.75},
{"x":908.5,"d":0,"v":1.6},{"x":912.6,"d":1,"v":1.65},{"x":912.6,"d":2,"v":1.65},{"x":912.6,"d":3,"v":1.65},{"x":912.6,"d":4,"v":1.65},{"x":912.6,"d":5,"v":1.65},{"x":912.6,"d":6,"v":1.65},{"x":912.6,"d":7,"v":1.65},{"x":912.6,"d":8,"v":1.65},{"x":912.6,"d":9,"v":1.65},{"x":912.6,"d":10,"v":1.65},{"x":912.6,"d":11,"v":1.65},{"x":912.6,"d":12,"v":1.65},{"x":912.6,"d":13,"v":1.65},{"x":912.6,"d":14,"v":1.65},{"x":912.6,"d":15,"v":1.65},{"x":912.6,"d":16,"v":1.65},{"x":912.6,"d":17,"v":1.65},{"x":912.6,"d":18,"v":1.65},{"x":912.6,"d":19,"v":1.65},{"x":912.6,"d":20,"v":1.65},{"x":912.6,"d":21,"v":1.65},{"x":912.6,"d":22,"v":1.65},{"x":912.6,"d":23,"v":1.65},{"x":912.6,"d":24,"v":1.65},{"x":912.6,"d":25,"v":1.65},{"x":914.7,"d":26,"v":1.72},{"x":917.5,"d":27,"v":1.8},{"x":919.2,"d":28,"v":1.87},{"x":919.2,"d":29,"v":1.87},{"x":918.6,"d":30,"v":1.85},{"x":916.8,"d":31,"v":1.78},{"x":914.7,"d":32,"v":1.72},{"x":914.7,"d":33,"v":1.72},{"x":914.7,"d":34,"v":1.72},{"x":914.7,"d":35,"v":1.72},{"x":914.7,"d":36,"v":1.72},{"x":914.7,"d":37,"v":1.72},{"x":914.7,"d":38,"v":1.72},{"x":914.7,"d":39,"v":1.72},
{"x":932.7,"d":0,"v":1.55},{"x":936.2,"d":1,"v":1.57},{"x":936.2,"d":2,"v":1.57},{"x":936.2,"d":3,"v":1.57},{"x":936.8,"d":4,"v":1.58},{"x":936.8,"d":5,"v":1.58},{"x":936.8,"d":6,"v":1.58},{"x":936.8,"d":7,"v":1.58},{"x":936.8,"d":8,"v":1.58},{"x":936.8,"d":9,"v":1.58},{"x":936.8,"d":10,"v":1.58},{"x":936.2,"d":11,"v":1.57},{"x":936.2,"d":12,"v":1.57},{"x":937.9,"d":13,"v":1.6},{"x":937.9,"d":14,"v":1.6},{"x":937.9,"d":15,"v":1.6},{"x":937.9,"d":16,"v":1.6},{"x":938.9,"d":17,"v":1.62},{"x":938.9,"d":18,"v":1.62},{"x":938.9,"d":19,"v":1.62},{"x":938.9,"d":20,"v":1.62},{"x":938.9,"d":21,"v":1.62},{"x":938.9,"d":22,"v":1.62},{"x":938.9,"d":23,"v":1.62},{"x":938.9,"d":24,"v":1.62},{"x":938.9,"d":25,"v":1.62},{"x":938.9,"d":26,"v":1.62},{"x":938.9,"d":27,"v":1.62},{"x":941.0,"d":28,"v":1.68},{"x":942.6,"d":29,"v":1.73},{"x":942.6,"d":30,"v":1.73},{"x":942.6,"d":31,"v":1.73},{"x":942.0,"d":32,"v":1.71},{"x":941.4,"d":33,"v":1.7},{"x":941.4,"d":34,"v":1.7},{"x":941.4,"d":35,"v":1.7},{"x":941.4,"d":36,"v":1.7},{"x":941.4,"d":37,"v":1.7},{"x":941.4,"d":38,"v":1.7},{"x":941.4,"d":39,"v":1.7}
],
"pts": [
{"x":59.9,"d":34.1,"v":2.33},{"x":57.2,"d":34.6,"v":2.22},{"x":50.2,"d":35.1,"v":2.05},{"x":47.7,"d":35.6,"v":1.82},{"x":47.7,"d":36.1,"v":1.82},{"x":47.7,"d":36.6,"v":1.82},{"x":47.7,"d":37.0,"v":1.82},{"x":47.7,"d":37.6,"v":1.82},{"x":47.7,"d":38.0,"v":1.82},{"x":47.7,"d":38.5,"v":1.82},{"x":47.7,"d":38.9,"v":1.82},{"x":47.7,"d":39.6,"v":1.82},{"x":47.7,"d":40.3,"v":1.82},{"x":47.7,"d":41.3,"v":1.82},{"x":47.7,"d":42.3,"v":1.82},{"x":47.7,"d":43.0,"v":1.82},
{"x":89.5,"d":33.8,"v":2.42},{"x":88.0,"d":34.6,"v":2.4},{"x":80.0,"d":35.1,"v":2.05},{"x":74.0,"d":35.5,"v":1.82},{"x":74.0,"d":36.0,"v":1.82},{"x":74.0,"d":36.5,"v":1.82},{"x":74.0,"d":37.0,"v":1.82},{"x":74.0,"d":37.5,"v":1.82},{"x":74.0,"d":38.0,"v":1.82},{"x":74.0,"d":38.5,"v":1.82},{"x":74.0,"d":39.0,"v":1.82},{"x":74.0,"d":39.8,"v":1.82},{"x":74.0,"d":40.3,"v":1.82},{"x":74.0,"d":41.3,"v":1.82},{"x":74.0,"d":42.3,"v":1.82},{"x":74.0,"d":43.3,"v":1.82},
{"x":115.7,"d":35.1,"v":2.42},{"x":112.2,"d":35.6,"v":2.33},{"x":104.0,"d":36.1,"v":2.05},{"x":100.6,"d":36.5,"v":1.8},{"x":100.6,"d":37.0,"v":1.8},{"x":100.6,"d":37.5,"v":1.8},{"x":100.6,"d":38.0,"v":1.8},{"x":100.6,"d":38.5,"v":1.8},{"x":100.6,"d":39.0,"v":1.8},{"x":100.6,"d":39.8,"v":1.8},{"x":100.6,"d":40.4,"v":1.8},{"x":100.6,"d":41.3,"v":1.8},{"x":100.6,"d":42.4,"v":1.8},{"x":100.6,"d":43.8,"v":1.8},
{"x":142.2,"d":35.1,"v":2.42},{"x":141.0,"d":35.6,"v":2.4},{"x":135.0,"d":36.1,"v":2.2},{"x":128.4,"d":36.6,"v":1.95},{"x":127.1,"d":37.1,"v":1.82},{"x":127.1,"d":37.6,"v":1.82},{"x":127.1,"d":38.1,"v":1.82},{"x":127.1,"d":38.6,"v":1.82},{"x":127.1,"d":39.1,"v":1.82},{"x":127.1,"d":39.8,"v":1.82},{"x":127.1,"d":40.4,"v":1.82},{"x":127.1,"d":41.3,"v":1.82},{"x":127.1,"d":42.3,"v":1.82},{"x":127.1,"d":43.3,"v":1.82},{"x":127.1,"d":44.2,"v":1.82},
{"x":169.5,"d":35.7,"v":2.45},{"x":166.9,"d":36.6,"v":2.4},{"x":162.3,"d":37.1,"v":2.25},{"x":154.6,"d":37.6,"v":1.95},{"x":154.0,"d":38.1,"v":1.82},{"x":154.0,"d":38.6,"v":1.82},{"x":154.0,"d":39.1,"v":1.82},{"x":154.0,"d":39.8,"v":1.82},{"x":154.0,"d":40.4,"v":1.82},{"x":154.0,"d":41.3,"v":1.82},{"x":154.0,"d":42.3,"v":1.82},{"x":154.0,"d":43.3,"v":1.82},{"x":154.0,"d":44.1,"v":1.82},
{"x":195.6,"d":35.0,"v":2.48},{"x":194.6,"d":35.6,"v":2.45},{"x":188.8,"d":36.1,"v":2.25},{"x":181.7,"d":36.5,"v":1.95},{"x":180.9,"d":36.9,"v":1.8},{"x":180.9,"d":37.4,"v":1.8},{"x":180.9,"d":37.9,"v":1.8},{"x":180.9,"d":38.4,"v":1.8},{"x":180.9,"d":38.9,"v":1.8},{"x":180.9,"d":39.4,"v":1.8},{"x":180.9,"d":39.8,"v":1.8},{"x":180.9,"d":40.4,"v":1.8},{"x":180.9,"d":41.3,"v":1.8},{"x":180.9,"d":42.4,"v":1.8},{"x":180.9,"d":43.4,"v":1.8},{"x":180.9,"d":44.9,"v":1.8},
{"x":222.3,"d":36.0,"v":2.45},{"x":212.6,"d":36.6,"v":2.1},{"x":207.6,"d":37.1,"v":1.82},{"x":207.6,"d":37.6,"v":1.82},{"x":207.6,"d":38.1,"v":1.82},{"x":207.6,"d":38.6,"v":1.82},{"x":207.6,"d":39.1,"v":1.82},{"x":207.6,"d":39.8,"v":1.82},{"x":207.6,"d":40.4,"v":1.82},{"x":207.6,"d":41.3,"v":1.82},{"x":207.6,"d":42.4,"v":1.82},{"x":207.6,"d":43.4,"v":1.82},{"x":207.6,"d":44.4,"v":1.82},{"x":207.6,"d":45.0,"v":1.82},
{"x":247.3,"d":37.1,"v":2.45},{"x":236.4,"d":37.6,"v":2.0},{"x":234.3,"d":38.1,"v":1.85},{"x":234.3,"d":38.6,"v":1.85},{"x":234.3,"d":39.1,"v":1.85},{"x":234.3,"d":39.8,"v":1.85},{"x":234.3,"d":40.4,"v":1.85},{"x":234.3,"d":41.3,"v":1.85},{"x":234.3,"d":42.4,"v":1.85},{"x":234.3,"d":43.3,"v":1.85},{"x":234.3,"d":44.1,"v":1.85},
{"x":274.7,"d":36.6,"v":2.47},{"x":266.2,"d":37.1,"v":2.1},{"x":261.0,"d":37.6,"v":1.85},{"x":261.0,"d":38.1,"v":1.85},{"x":261.0,"d":38.6,"v":1.85},{"x":261.0,"d":39.1,"v":1.85},{"x":261.0,"d":39.8,"v":1.85},{"x":261.0,"d":40.4,"v":1.85},{"x":261.0,"d":41.3,"v":1.85},{"x":261.0,"d":42.4,"v":1.85},{"x":261.0,"d":43.8,"v":1.85},
{"x":295.8,"d":37.1,"v":2.3},{"x":287.5,"d":37.6,"v":1.85},{"x":287.5,"d":38.1,"v":1.85},{"x":287.5,"d":38.6,"v":1.85},{"x":287.5,"d":39.1,"v":1.85},{"x":287.5,"d":39.8,"v":1.85},{"x":287.5,"d":40.4,"v":1.85},{"x":287.5,"d":41.3,"v":1.85},{"x":287.5,"d":42.4,"v":1.85},{"x":287.5,"d":43.6,"v":1.85},
{"x":325.8,"d":36.7,"v":2.47},{"x":320.4,"d":37.1,"v":2.25},{"x":314.8,"d":37.6,"v":1.85},{"x":314.8,"d":38.1,"v":1.85},{"x":314.8,"d":38.6,"v":1.85},{"x":314.8,"d":39.1,"v":1.85},{"x":314.8,"d":39.8,"v":1.85},{"x":314.8,"d":40.4,"v":1.85},{"x":314.8,"d":41.3,"v":1.85},{"x":314.8,"d":42.4,"v":1.85},{"x":314.8,"d":43.4,"v":1.85},{"x":314.8,"d":44.2,"v":1.85},
{"x":337.5,"d":0,"v":1.7},
{"x":354.9,"d":35.7,"v":2.52},{"x":349.1,"d":36.1,"v":2.4},{"x":341.9,"d":36.5,"v":1.95},{"x":341.9,"d":37.0,"v":1.95},{"x":341.9,"d":37.5,"v":1.95},{"x":341.9,"d":38.0,"v":1.95},{"x":341.9,"d":38.5,"v":1.95},{"x":341.9,"d":39.0,"v":1.95},{"x":341.9,"d":39.8,"v":1.95},{"x":341.9,"d":40.4,"v":1.95},{"x":341.9,"d":41.4,"v":1.95},{"x":341.9,"d":42.4,"v":1.95},{"x":341.9,"d":43.4,"v":1.95},{"x":341.9,"d":44.5,"v":1.95},
{"x":375.2,"d":37.1,"v":2.25},{"x":369.6,"d":37.6,"v":2.02},{"x":369.6,"d":38.1,"v":2.02},{"x":369.6,"d":38.6,"v":2.02},{"x":369.6,"d":39.1,"v":2.02},{"x":369.6,"d":39.6,"v":2.02},{"x":369.6,"d":40.3,"v":2.02},{"x":369.6,"d":41.3,"v":2.02},{"x":369.6,"d":42.4,"v":2.02},{"x":369.6,"d":43.5,"v":2.02},{"x":369.6,"d":44.9,"v":2.02},
{"x":406.4,"d":32.7,"v":2.45},{"x":403.7,"d":33.1,"v":2.35},{"x":401.7,"d":33.6,"v":2.25},{"x":400.0,"d":34.1,"v":2.12},{"x":399.0,"d":34.7,"v":2.03},{"x":399.0,"d":35.2,"v":2.03},{"x":399.0,"d":35.7,"v":2.03},{"x":399.0,"d":36.2,"v":2.03},{"x":399.0,"d":36.7,"v":2.03},{"x":399.0,"d":37.2,"v":2.03},{"x":399.0,"d":37.7,"v":2.03},{"x":399.0,"d":38.2,"v":2.03},{"x":399.0,"d":38.7,"v":2.03},{"x":399.0,"d":39.2,"v":2.03},{"x":399.0,"d":39.8,"v":2.03},{"x":398.6,"d":40.5,"v":2.02},{"x":397.7,"d":41.4,"v":2.02},{"x":397.1,"d":42.4,"v":2.02},{"x":396.5,"d":43.4,"v":2.02},{"x":396.5,"d":44.4,"v":2.02},{"x":396.3,"d":45.3,"v":2.02},
{"x":431.7,"d":20.7,"v":2.4},{"x":430.6,"d":34.7,"v":2.42},{"x":426.9,"d":35.1,"v":2.1},{"x":425.7,"d":35.5,"v":2.02},{"x":425.7,"d":36.0,"v":2.02},{"x":425.7,"d":36.5,"v":2.02},{"x":425.7,"d":37.0,"v":2.02},{"x":425.7,"d":37.5,"v":2.02},{"x":425.7,"d":38.0,"v":2.02},{"x":425.7,"d":38.5,"v":2.02},{"x":425.7,"d":39.0,"v":2.02},{"x":425.7,"d":39.8,"v":2.02},{"x":425.5,"d":40.4,"v":2.02},{"x":425.1,"d":41.4,"v":2.02},{"x":424.9,"d":42.4,"v":2.02},{"x":424.6,"d":43.4,"v":2.02},{"x":424.4,"d":44.4,"v":2.02},{"x":424.4,"d":45.3,"v":2.02},
{"x":462.1,"d":39.2,"v":2.62},{"x":452.2,"d":39.6,"v":2.25},{"x":450.5,"d":40.3,"v":2.0},{"x":450.5,"d":41.3,"v":2.0},{"x":450.5,"d":42.4,"v":2.0},{"x":450.5,"d":43.4,"v":2.0},{"x":450.5,"d":44.4,"v":2.0},{"x":450.5,"d":45.1,"v":2.0},
{"x":489.2,"d":37.6,"v":2.72},{"x":480.5,"d":38.1,"v":2.35},{"x":475.1,"d":38.6,"v":2.02},{"x":475.1,"d":39.1,"v":2.02},{"x":475.1,"d":39.8,"v":2.02},{"x":475.1,"d":40.4,"v":2.02},{"x":475.1,"d":41.4,"v":2.02},{"x":475.1,"d":42.4,"v":2.02},{"x":475.1,"d":43.5,"v":2.02},{"x":475.1,"d":44.6,"v":2.02},
{"x":507.8,"d":32.7,"v":2.22},{"x":506.6,"d":33.1,"v":2.15},{"x":504.1,"d":33.6,"v":2.08},{"x":502.0,"d":34.1,"v":2.0},{"x":501.4,"d":34.6,"v":1.95},{"x":501.4,"d":35.1,"v":1.95},{"x":501.4,"d":35.6,"v":1.95},{"x":501.4,"d":36.1,"v":1.95},{"x":501.4,"d":36.6,"v":1.95},{"x":501.4,"d":37.1,"v":1.95},{"x":501.4,"d":37.6,"v":1.95},{"x":501.4,"d":38.1,"v":1.95},{"x":501.4,"d":38.6,"v":1.95},{"x":501.4,"d":39.1,"v":1.95},{"x":501.4,"d":39.6,"v":1.95},{"x":501.4,"d":40.4,"v":1.95},{"x":501.4,"d":41.4,"v":1.95},{"x":501.4,"d":42.4,"v":1.95},{"x":501.4,"d":43.4,"v":1.95},{"x":501.4,"d":44.9,"v":1.95},
{"x":535.1,"d":34.7,"v":2.35},{"x":534.1,"d":35.1,"v":2.3},{"x":532.0,"d":35.6,"v":2.22},{"x":530.6,"d":36.0,"v":2.15},{"x":528.9,"d":36.5,"v":1.95},{"x":528.9,"d":37.0,"v":1.95},{"x":528.9,"d":37.5,"v":1.95},{"x":528.9,"d":38.0,"v":1.95},{"x":528.9,"d":38.5,"v":1.95},{"x":528.9,"d":39.0,"v":1.95},{"x":528.9,"d":39.8,"v":1.95},{"x":528.9,"d":40.4,"v":1.95},{"x":528.9,"d":41.4,"v":1.95},{"x":528.9,"d":42.4,"v":1.95},{"x":528.9,"d":43.4,"v":1.95},{"x":528.9,"d":44.4,"v":1.95},{"x":528.9,"d":45.0,"v":1.95},
{"x":560.0,"d":36.4,"v":2.22},{"x":558.5,"d":36.9,"v":2.17},{"x":556.4,"d":37.6,"v":2.1},{"x":554.4,"d":38.1,"v":2.02},{"x":553.8,"d":38.6,"v":1.97},{"x":553.3,"d":39.1,"v":1.93},{"x":553.3,"d":39.8,"v":1.93},{"x":553.3,"d":40.4,"v":1.93},{"x":553.3,"d":41.4,"v":1.93},{"x":553.3,"d":42.4,"v":1.93},{"x":553.3,"d":43.3,"v":1.93},{"x":553.3,"d":44.8,"v":1.93},
{"x":585.4,"d":38.1,"v":2.18},{"x":583.8,"d":38.8,"v":2.12},{"x":581.7,"d":39.5,"v":2.05},{"x":578.6,"d":40.2,"v":1.95},{"x":578.0,"d":41.3,"v":1.95},{"x":578.0,"d":42.4,"v":1.95},{"x":577.8,"d":43.4,"v":1.95},{"x":577.8,"d":44.6,"v":1.95},{"x":577.8,"d":45.1,"v":1.95},
{"x":636.1,"d":38.9,"v":2.2},{"x":634.5,"d":39.5,"v":2.1},{"x":630.3,"d":40.3,"v":1.95},{"x":630.3,"d":41.3,"v":1.95},{"x":630.3,"d":42.3,"v":1.95},{"x":630.3,"d":43.3,"v":1.95},{"x":630.3,"d":44.3,"v":1.95},{"x":630.3,"d":45.3,"v":1.95},
{"x":662.7,"d":38.3,"v":2.17},{"x":661.6,"d":39.3,"v":2.12},{"x":659.6,"d":40.3,"v":2.05},{"x":657.1,"d":41.3,"v":1.93},{"x":657.1,"d":42.3,"v":1.93},{"x":656.7,"d":43.3,"v":1.93},{"x":655.6,"d":44.7,"v":1.93},
{"x":686.1,"d":40.3,"v":2.05},{"x":683.0,"d":41.3,"v":1.93},{"x":682.7,"d":42.3,"v":1.93},{"x":681.9,"d":43.3,"v":1.93},{"x":681.5,"d":44.2,"v":1.93},
{"x":712.7,"d":40.3,"v":2.05},{"x":712.7,"d":41.3,"v":2.0},{"x":712.5,"d":42.3,"v":1.97},{"x":709.4,"d":43.3,"v":1.93},{"x":708.2,"d":44.1,"v":1.93},
{"x":737.6,"d":40.3,"v":2.0},{"x":737.4,"d":41.3,"v":1.97},{"x":736.3,"d":42.3,"v":1.95},{"x":735.1,"d":43.3,"v":1.94},{"x":734.9,"d":44.5,"v":1.94},
{"x":760.8,"d":40.3,"v":1.87},{"x":760.8,"d":41.3,"v":1.87},{"x":760.8,"d":42.3,"v":1.87},{"x":760.5,"d":43.7,"v":1.87},
{"x":785.8,"d":40.3,"v":1.83},{"x":785.8,"d":41.3,"v":1.83},{"x":785.8,"d":42.3,"v":1.83},{"x":785.8,"d":43.3,"v":1.83},{"x":785.8,"d":44.4,"v":1.83},
{"x":812.1,"d":40.3,"v":1.82},{"x":812.1,"d":41.3,"v":1.82},{"x":812.1,"d":42.3,"v":1.82},{"x":812.1,"d":43.3,"v":1.82},{"x":812.1,"d":44.4,"v":1.82},{"x":812.1,"d":45.0,"v":1.82},
{"x":835.9,"d":40.3,"v":1.77},{"x":835.9,"d":41.3,"v":1.77},{"x":835.9,"d":42.3,"v":1.77},{"x":835.9,"d":43.3,"v":1.77},{"x":835.9,"d":44.2,"v":1.77},
{"x":862.1,"d":40.3,"v":1.77},{"x":862.1,"d":41.3,"v":1.77},{"x":862.1,"d":42.3,"v":1.77},{"x":862.1,"d":43.3,"v":1.77},
{"x":888.2,"d":40.3,"v":1.75},{"x":888.2,"d":41.3,"v":1.75},{"x":888.2,"d":42.3,"v":1.75},{"x":888.2,"d":43.3,"v":1.75},
{"x":914.7,"d":40.3,"v":1.72},{"x":914.7,"d":41.3,"v":1.72},{"x":914.7,"d":42.4,"v":1.72},
{"x":941.4,"d":40.3,"v":1.7},{"x":941.4,"d":41.3,"v":1.7},{"x":941.4,"d":42.5,"v":1.7},{"x":941.4,"d":42.9,"v":1.7}
]
},
"layer": [
{
"data": {"name": "chain"},
"mark": {"type": "point", "filled": true, "opacity": 1, "shape": "M0,-1C0.387,-1,0.7,-0.552,0.7,0C0.7,0.552,0.387,1,0,1C-0.387,1,-0.7,0.552,-0.7,0C-0.7,-0.552,-0.387,-1,0,-1Z", "size": 256, "stroke": "white", "strokeWidth": 0.6, "strokeOpacity": 0.7, "clip": true},
"encoding": {
"x": {"field": "x", "type": "quantitative", "scale": {"domain": [0, 1000], "nice": false, "zero": false}, "axis": null},
"y": {"field": "d", "type": "quantitative", "scale": {"domain": [0, 50], "reverse": true, "nice": false, "zero": false},
 "axis": {"orient": "left", "values": [0, 10, 20, 30, 40, 50], "domain": false, "grid": false, "tickSize": 8, "tickWidth": 1.5, "tickColor": "#808080", "labelFontSize": 46, "labelFont": "DejaVu Sans", "labelColor": "#808080", "labelPadding": 19, "labelFlush": false, "labelOverlap": false, "title": null}},
"color": {"field": "v", "type": "quantitative", "scale": {"scheme": "redyellowblue", "reverse": true, "domain": [-0.0005, 3.0005], "nice": false, "zero": false},
 "legend": {"orient": "none", "legendX": 3276, "legendY": 0, "direction": "vertical", "title": null, "gradientLength": 745, "gradientThickness": 36, "gradientStrokeWidth": 0, "values": [0, 0.3, 0.6, 0.9, 1.2, 1.5, 1.8, 2.1, 2.4, 2.7, 3], "format": ".1f", "labelFontSize": 47, "labelFont": "DejaVu Sans", "labelColor": "#808080", "labelOffset": 27, "labelOverlap": false, "padding": 0}}
}
},
{
"data": {"name": "pts"},
"mark": {"type": "circle", "opacity": 1, "size": 121, "stroke": "white", "strokeWidth": 0.6, "strokeOpacity": 0.7, "clip": true},
"encoding": {
"x": {"field": "x", "type": "quantitative", "scale": {"domain": [0, 1000], "nice": false, "zero": false}, "axis": null},
"y": {"field": "d", "type": "quantitative", "scale": {"domain": [0, 50], "reverse": true, "nice": false, "zero": false},
 "axis": {"orient": "right", "values": [0, 10, 20, 30, 40, 50], "domain": false, "grid": false, "labels": false, "tickSize": 8, "tickWidth": 1.5, "tickColor": "#808080", "title": null}},
"color": {"field": "v", "type": "quantitative", "scale": {"scheme": "redyellowblue", "reverse": true, "domain": [-0.0005, 3.0005], "nice": false, "zero": false}}
}
}
],
"resolve": {"axis": {"y": "independent"}},
"config": {"view": {"stroke": null}}
}
